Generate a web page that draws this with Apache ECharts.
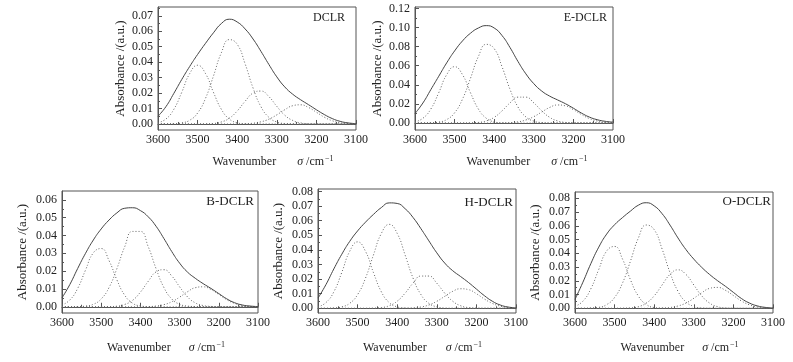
<!DOCTYPE html>
<html><head><meta charset="utf-8">
<script src="https://cdn.jsdelivr.net/npm/echarts@6/dist/echarts.min.js"></script>
<style>html,body{margin:0;padding:0;background:#fff}#c{width:793px;height:362px}</style>
</head><body><div id="c"></div>
<script>
// ---- data ----
const wavenumbers = [3600,3580,3560,3540,3520,3500,3480,3460,3440,3420,3400,3380,3360,3340,3320,3300,3280,3260,3240,3220,3200,3180,3160,3140,3120,3100];
const panelNames = ['DCLR','E-DCLR','B-DCLR','H-DCLR','O-DCLR'];

const dclrEnvelope = [0.0050,0.0112,0.0198,0.0288,0.0372,0.0450,0.0522,0.0590,0.0650,0.0678,0.0660,0.0615,0.0550,0.0470,0.0385,0.0305,0.0240,0.0193,0.0157,0.0125,0.0092,0.0061,0.0035,0.0017,0.0007,0.0002];
const dclrBand1 = [0.0008,0.0032,0.0095,0.0205,0.0326,0.0380,0.0326,0.0205,0.0095,0.0032,0.0008,0.0001,0,0,0,0,0,0,0,0,0,0,0,0,0,0];
const dclrBand2 = [0,0,0.0001,0.0007,0.0024,0.0071,0.0166,0.0310,0.0461,0.0546,0.0516,0.0389,0.0233,0.0112,0.0043,0.0013,0.0003,0.0001,0,0,0,0,0,0,0,0];
const dclrBand3 = [0,0,0,0,0,0,0.0001,0.0003,0.0013,0.0037,0.0084,0.0147,0.0200,0.0213,0.0177,0.0114,0.0057,0.0023,0.0007,0.0002,0,0,0,0,0,0];
const dclrBand4 = [0,0,0,0,0,0,0,0,0,0,0,0.0001,0.0005,0.0014,0.0031,0.0059,0.0092,0.0118,0.0124,0.0107,0.0076,0.0044,0.0021,0.0008,0.0003,0.0001];

const edclrEnvelope = [0.010,0.021,0.035,0.049,0.063,0.0755,0.0860,0.0940,0.0995,0.1020,0.0995,0.0915,0.0790,0.0645,0.0515,0.0412,0.0335,0.0282,0.0242,0.0202,0.0155,0.0105,0.0063,0.0035,0.0018,0.0010];
const edclrBand1 = [0.0012,0.0050,0.0147,0.0318,0.0506,0.0590,0.0506,0.0318,0.0147,0.0050,0.0012,0.0002,0,0,0,0,0,0,0,0,0,0,0,0,0,0];
const edclrBand2 = [0,0,0.0002,0.0010,0.0036,0.0107,0.0251,0.0467,0.0696,0.0824,0.0779,0.0587,0.0352,0.0168,0.0064,0.0020,0.0005,0.0001,0,0,0,0,0,0,0,0];
const edclrBand3 = [0,0,0,0,0,0,0,0.0001,0.0006,0.0022,0.0060,0.0128,0.0211,0.0271,0.0271,0.0211,0.0128,0.0060,0.0022,0.0006,0.0001,0,0,0,0,0];
const edclrBand4 = [0,0,0,0,0,0,0,0,0,0,0,0.0001,0.0004,0.0012,0.0032,0.0067,0.0115,0.0163,0.0189,0.0180,0.0140,0.0090,0.0047,0.0021,0.0007,0.0002];

const bdclrEnvelope = [0.0050,0.0125,0.0215,0.0300,0.0375,0.0437,0.0487,0.0527,0.0553,0.0556,0.0540,0.0505,0.0452,0.0383,0.0310,0.0245,0.0195,0.0160,0.0130,0.0103,0.0074,0.0045,0.0023,0.0010,0.0004,0.0001];
const bdclrBand1 = [0.0010,0.0038,0.0103,0.0206,0.0303,0.0327,0.0259,0.0151,0.0065,0.0020,0.0005,0.0001,0,0,0,0,0,0,0,0,0,0,0,0,0,0];
const bdclrBand2 = [0,0,0.0001,0.0004,0.0014,0.0044,0.0108,0.0214,0.0337,0.0423,0.0423,0.0337,0.0214,0.0108,0.0044,0.0014,0.0004,0.0001,0,0,0,0,0,0,0,0];
const bdclrBand3 = [0,0,0,0,0,0,0.0001,0.0003,0.0013,0.0036,0.0082,0.0143,0.0196,0.0208,0.0173,0.0112,0.0056,0.0022,0.0007,0.0002,0,0,0,0,0,0];
const bdclrBand4 = [0,0,0,0,0,0,0,0,0,0,0,0.0001,0.0004,0.0012,0.0028,0.0054,0.0084,0.0107,0.0112,0.0097,0.0069,0.0040,0.0019,0.0007,0.0002,0.0001];

const hdclrEnvelope = [0.0070,0.0162,0.0270,0.0370,0.0458,0.0530,0.0590,0.0643,0.0690,0.0722,0.0718,0.0682,0.0622,0.0545,0.0462,0.0380,0.0310,0.0258,0.0218,0.0177,0.0132,0.0087,0.0049,0.0023,0.0009,0.0003];
const hdclrBand1 = [0.0010,0.0039,0.0113,0.0245,0.0390,0.0455,0.0390,0.0245,0.0113,0.0039,0.0010,0.0002,0,0,0,0,0,0,0,0,0,0,0,0,0,0];
const hdclrBand2 = [0,0,0.0002,0.0010,0.0034,0.0094,0.0207,0.0365,0.0513,0.0575,0.0513,0.0365,0.0207,0.0094,0.0034,0.0010,0.0002,0,0,0,0,0,0,0,0,0];
const hdclrBand3 = [0,0,0,0,0,0,0,0.0001,0.0005,0.0018,0.0049,0.0104,0.0172,0.0221,0.0221,0.0172,0.0104,0.0049,0.0018,0.0005,0.0001,0,0,0,0,0];
const hdclrBand4 = [0,0,0,0,0,0,0,0,0,0,0,0.0001,0.0003,0.0009,0.0023,0.0048,0.0082,0.0116,0.0134,0.0128,0.0100,0.0064,0.0034,0.0015,0.0005,0.0001];

const odclrEnvelope = [0.0065,0.0190,0.0325,0.0445,0.0540,0.0608,0.0660,0.0707,0.0750,0.0768,0.0745,0.0688,0.0605,0.0512,0.0428,0.0358,0.0298,0.0246,0.0201,0.0160,0.0116,0.0072,0.0039,0.0018,0.0007,0.0002];
const odclrBand1 = [0.0014,0.0052,0.0142,0.0283,0.0417,0.0450,0.0358,0.0208,0.0089,0.0028,0.0006,0.0001,0,0,0,0,0,0,0,0,0,0,0,0,0,0];
const odclrBand2 = [0,0,0.0002,0.0007,0.0027,0.0079,0.0184,0.0343,0.0511,0.0606,0.0572,0.0431,0.0259,0.0124,0.0047,0.0014,0.0003,0.0001,0,0,0,0,0,0,0,0];
const odclrBand3 = [0,0,0,0,0,0,0.0001,0.0003,0.0012,0.0038,0.0091,0.0170,0.0247,0.0280,0.0247,0.0170,0.0091,0.0038,0.0012,0.0003,0.0001,0,0,0,0,0];
const odclrBand4 = [0,0,0,0,0,0,0,0,0,0,0,0.0002,0.0006,0.0017,0.0038,0.0073,0.0113,0.0145,0.0152,0.0131,0.0093,0.0054,0.0026,0.0010,0.0003,0.0001];

const yTicksDCLR = [0,0.01,0.02,0.03,0.04,0.05,0.06,0.07];
const yTicksE = [0,0.02,0.04,0.06,0.08,0.10,0.12];
const yTicksB = [0,0.01,0.02,0.03,0.04,0.05,0.06];
const yTicksH = [0,0.01,0.02,0.03,0.04,0.05,0.06,0.07,0.08];
const yTicksO = [0,0.01,0.02,0.03,0.04,0.05,0.06,0.07,0.08];
const xTicks = [3100,3200,3300,3400,3500,3600];

const envelopes = [dclrEnvelope, edclrEnvelope, bdclrEnvelope, hdclrEnvelope, odclrEnvelope];
const bands = [
  [dclrBand1,dclrBand2,dclrBand3,dclrBand4],
  [edclrBand1,edclrBand2,edclrBand3,edclrBand4],
  [bdclrBand1,bdclrBand2,bdclrBand3,bdclrBand4],
  [hdclrBand1,hdclrBand2,hdclrBand3,hdclrBand4],
  [odclrBand1,odclrBand2,odclrBand3,odclrBand4]
];
const yTickSets = [yTicksDCLR, yTicksE, yTicksB, yTicksH, yTicksO];

// ---- layout (positions/styles) ----
const layout = [
  {left:158, top:7,   width:198, height:123, ymin:-0.0039, ymax:0.0757, xGap:25, yGap:31, titleRight:448, titleTop:12, tSize:12, sigmaPad:21, shift:32},
  {left:415, top:7,   width:198, height:123, ymin:-0.0073, ymax:0.1215, xGap:25, yGap:31, titleRight:186, titleTop:12, tSize:12, sigmaPad:21, shift:26},
  {left:62,  top:191, width:196, height:122, ymin:-0.0035, ymax:0.0650, xGap:28, yGap:33, titleRight:539, titleTop:195, tSize:13, sigmaPad:18, shift:12},
  {left:318, top:189, width:198, height:124, ymin:-0.0032, ymax:0.0817, xGap:28, yGap:33, titleRight:280, titleTop:196, tSize:13, sigmaPad:19, shift:11},
  {left:575, top:192, width:198, height:121, ymin:-0.0034, ymax:0.0846, xGap:28, yGap:33, titleRight:22,  titleTop:195, tSize:13, sigmaPad:18, shift:11}
];

const FONT = '"Liberation Serif","Times New Roman",serif';
const AX = '#555';
const grids = [], xAxes = [], yAxes = [], series = [], titles = [];

layout.forEach((L, i) => {
  const ticks = yTickSets[i];
  const step = ticks[1] - ticks[0];
  const minor = [];
  for (let k = 0; k < ticks.length; k++) {
    const m = ticks[k] + step / 2;
    if (m < L.ymax) minor.push(m);
  }
  grids.push({left:L.left, top:L.top, width:L.width, height:L.height, show:true, borderColor:AX, borderWidth:1, backgroundColor:'transparent'});
  xAxes.push({
    gridIndex:i, type:'value', min:xTicks[0], max:xTicks[xTicks.length-1], interval:100, inverse:true,
    axisLine:{show:true, lineStyle:{color:AX, width:1}},
    axisTick:{show:true, inside:true, length:4, lineStyle:{color:AX}},
    minorTick:{show:true, splitNumber:2, length:2, lineStyle:{color:AX}},
    axisLabel:{fontFamily:FONT, fontSize:12, color:'#222', margin:4, formatter:v => String(v)},
    splitLine:{show:false},
    name:'{n|Wavenumber}{i|σ}{t| /cm}{s|−1}', nameLocation:'middle', nameGap:L.xGap,
    nameTextStyle:{fontFamily:FONT, fontSize:12, color:'#222',
      rich:{
        n:{fontFamily:FONT, fontSize:12, color:'#222', padding:[0,0,0,L.shift]},
        i:{fontFamily:FONT, fontSize:12, color:'#222', fontStyle:'italic', padding:[0,0,0,L.sigmaPad]},
        t:{fontFamily:FONT, fontSize:12, color:'#222'},
        s:{fontFamily:FONT, fontSize:8, color:'#222', verticalAlign:'top', padding:[0,0,6,1]}
      }}
  });
  yAxes.push({
    gridIndex:i, type:'value', min:L.ymin, max:L.ymax,
    axisLine:{show:true, lineStyle:{color:AX, width:1}},
    axisTick:{show:true, inside:true, length:4, customValues:ticks, lineStyle:{color:AX}},
    axisLabel:{fontFamily:FONT, fontSize:12, color:'#222', margin:5, customValues:ticks, formatter:v => v.toFixed(2)},
    splitLine:{show:false},
    name:'Absorbance /(a.u.)', nameLocation:'middle', nameGap:L.yGap,
    nameTextStyle:{fontFamily:FONT, fontSize:13, color:'#222'}
  });
  yAxes.push({
    gridIndex:i, type:'value', min:L.ymin, max:L.ymax, position:'left',
    axisLine:{show:false},
    axisTick:{show:true, inside:true, length:2, customValues:minor, lineStyle:{color:AX}},
    axisLabel:{show:false}, splitLine:{show:false}
  });
  titles.push({text:panelNames[i], right:L.titleRight, top:L.titleTop, padding:0,
    textStyle:{fontFamily:FONT, fontSize:L.tSize, fontWeight:'normal', color:'#222'}});
  const toPts = arr => arr.map((v, k) => [wavenumbers[k], v]);
  bands[i].forEach(b => {
    series.push({type:'line', xAxisIndex:i, yAxisIndex:2*i, data:toPts(b), symbol:'none', smooth:true,
      silent:true, lineStyle:{color:'#666', width:1, type:[1,2]}});
  });
  series.push({type:'line', xAxisIndex:i, yAxisIndex:2*i, data:toPts(envelopes[i]), symbol:'none', smooth:true,
    silent:true, lineStyle:{color:'#444', width:1}});
});

const chart = echarts.init(document.getElementById('c'), null, {renderer:'canvas'});
chart.setOption({animation:false, backgroundColor:'#fff', title:titles, grid:grids, xAxis:xAxes, yAxis:yAxes, series});
</script>
</body></html>
